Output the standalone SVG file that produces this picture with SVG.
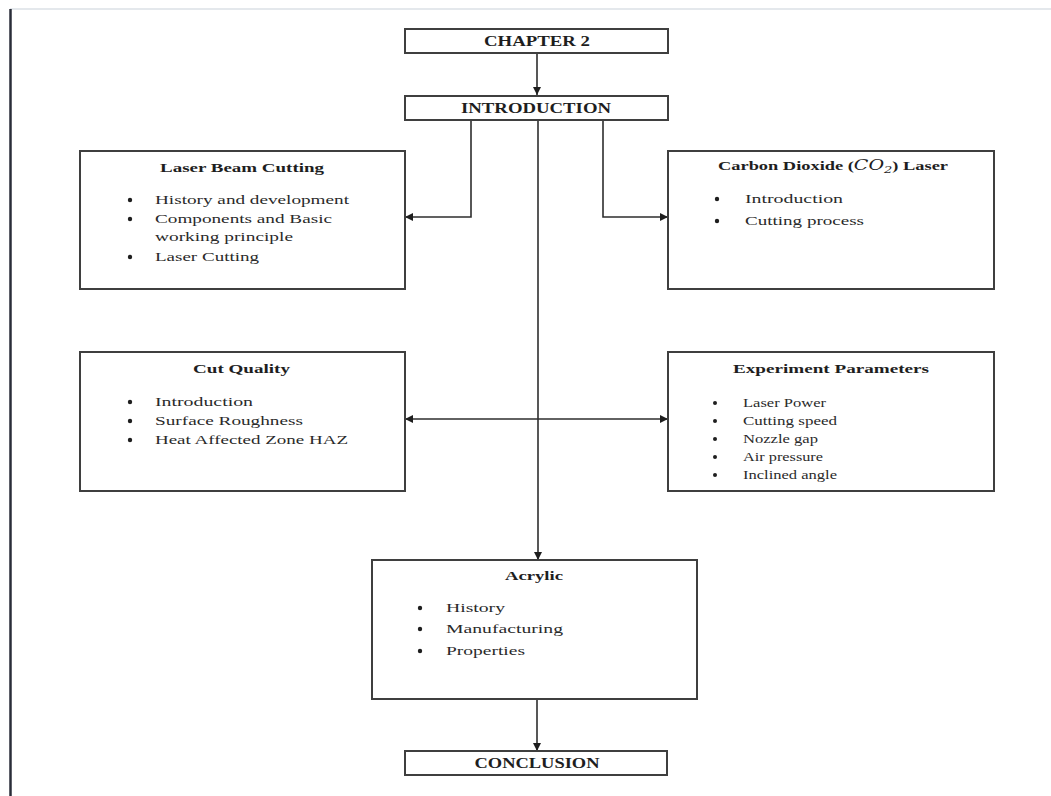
<svg xmlns="http://www.w3.org/2000/svg" width="1051" height="796" viewBox="0 0 1051 796">
  <style>
    .box { fill: #ffffff; stroke: #3f3f3f; stroke-width: 2; }
    .conn { fill: none; stroke: #2e2e2e; stroke-width: 1.6; }
    .hd { font-family: "Liberation Serif", "Times New Roman", serif; font-weight: bold; font-size: 14px; fill: #1e1e1e; }
    .ttl { font-family: "Liberation Serif", "Times New Roman", serif; font-weight: bold; font-size: 13.5px; fill: #1e1e1e; }
    .it { font-family: "Liberation Serif", "Times New Roman", serif; font-size: 13px; fill: #2a2a2a; }
    .sm { font-family: "Liberation Serif", "Times New Roman", serif; font-size: 11.5px; fill: #2a2a2a; }
    .math { font-family: "DejaVu Serif", "Liberation Serif", serif; font-style: italic; font-weight: normal; }
    .bul { fill: #1e1e1e; }
  </style>
  <defs>
    <marker id="arrow" viewBox="0 0 10 10" refX="10" refY="5" markerWidth="8" markerHeight="8" markerUnits="userSpaceOnUse" orient="auto-start-reverse">
      <path d="M0,0 L10,5 L0,10 z" fill="#1e1e1e"/>
    </marker>
  </defs>

  <rect x="0" y="0" width="1051" height="796" fill="#ffffff"/>
  <!-- page frame -->
  <line x1="10" y1="9" x2="1051" y2="9" stroke="#c9d1da" stroke-width="1.2"/>
  <line x1="10.5" y1="9" x2="10.5" y2="796" stroke="#2a2d38" stroke-width="2.5"/>

  <g id="connectors">
    <path class="conn" d="M537,53 V95" marker-end="url(#arrow)"/>
    <path class="conn" d="M471,120 V217 H405" marker-end="url(#arrow)"/>
    <path class="conn" d="M603,120 V217 H668" marker-end="url(#arrow)"/>
    <path class="conn" d="M538,120 V560" marker-end="url(#arrow)"/>
    <path class="conn" d="M405,419 H668" marker-start="url(#arrow)" marker-end="url(#arrow)"/>
    <path class="conn" d="M537,699 V751" marker-end="url(#arrow)"/>
  </g>

  <g id="chapter2">
    <rect class="box" x="405" y="29" width="263" height="24"/>
    <text class="hd" x="537" y="46" text-anchor="middle" textLength="106" lengthAdjust="spacingAndGlyphs">CHAPTER 2</text>
  </g>

  <g id="introduction">
    <rect class="box" x="405" y="96" width="263" height="24"/>
    <text class="hd" x="536" y="113" text-anchor="middle" textLength="150" lengthAdjust="spacingAndGlyphs">INTRODUCTION</text>
  </g>

  <g id="laser-beam-cutting">
    <rect class="box" x="80" y="151" width="325" height="138"/>
    <text class="ttl" x="160" y="172" textLength="164" lengthAdjust="spacingAndGlyphs">Laser Beam Cutting</text>
    <circle class="bul" cx="130" cy="200" r="2.2"/>
    <text class="it" x="155" y="204" textLength="194" lengthAdjust="spacingAndGlyphs">History and development</text>
    <circle class="bul" cx="130" cy="219" r="2.2"/>
    <text class="it" x="155" y="223" textLength="177" lengthAdjust="spacingAndGlyphs">Components and Basic</text>
    <text class="it" x="155" y="241" textLength="138" lengthAdjust="spacingAndGlyphs">working principle</text>
    <circle class="bul" cx="130" cy="257" r="2.2"/>
    <text class="it" x="155" y="261" textLength="104" lengthAdjust="spacingAndGlyphs">Laser Cutting</text>
  </g>

  <g id="co2-laser">
    <rect class="box" x="668" y="151" width="326" height="138"/>
    <text class="ttl" x="718" y="170" textLength="230" lengthAdjust="spacingAndGlyphs">Carbon Dioxide (<tspan class="math" font-size="14">CO</tspan><tspan class="math" font-style="normal" font-size="9.5" dy="3">2</tspan><tspan dy="-3">) Laser</tspan></text>
    <circle class="bul" cx="717" cy="199" r="2.2"/>
    <text class="it" x="745" y="203" textLength="98" lengthAdjust="spacingAndGlyphs">Introduction</text>
    <circle class="bul" cx="717" cy="221" r="2.2"/>
    <text class="it" x="745" y="225" textLength="119" lengthAdjust="spacingAndGlyphs">Cutting process</text>
  </g>

  <g id="cut-quality">
    <rect class="box" x="80" y="352" width="325" height="139"/>
    <text class="ttl" x="193" y="373" textLength="97" lengthAdjust="spacingAndGlyphs">Cut Quality</text>
    <circle class="bul" cx="130" cy="402" r="2.2"/>
    <text class="it" x="155" y="406" textLength="98" lengthAdjust="spacingAndGlyphs">Introduction</text>
    <circle class="bul" cx="130" cy="421" r="2.2"/>
    <text class="it" x="155" y="425" textLength="148" lengthAdjust="spacingAndGlyphs">Surface Roughness</text>
    <circle class="bul" cx="130" cy="440" r="2.2"/>
    <text class="it" x="155" y="444" textLength="193" lengthAdjust="spacingAndGlyphs">Heat Affected Zone HAZ</text>
  </g>

  <g id="experiment-parameters">
    <rect class="box" x="668" y="352" width="326" height="139"/>
    <text class="ttl" x="733" y="373" textLength="196" lengthAdjust="spacingAndGlyphs">Experiment Parameters</text>
    <circle class="bul" cx="715" cy="403" r="2"/>
    <text class="sm" x="743" y="407" textLength="83" lengthAdjust="spacingAndGlyphs">Laser Power</text>
    <circle class="bul" cx="715" cy="421" r="2"/>
    <text class="sm" x="743" y="425" textLength="94" lengthAdjust="spacingAndGlyphs">Cutting speed</text>
    <circle class="bul" cx="715" cy="439" r="2"/>
    <text class="sm" x="743" y="443" textLength="75" lengthAdjust="spacingAndGlyphs">Nozzle gap</text>
    <circle class="bul" cx="715" cy="457" r="2"/>
    <text class="sm" x="743" y="461" textLength="80" lengthAdjust="spacingAndGlyphs">Air pressure</text>
    <circle class="bul" cx="715" cy="475" r="2"/>
    <text class="sm" x="743" y="479" textLength="94" lengthAdjust="spacingAndGlyphs">Inclined angle</text>
  </g>

  <g id="acrylic">
    <rect class="box" x="372" y="560" width="325" height="139"/>
    <text class="ttl" x="534" y="580" text-anchor="middle" textLength="58" lengthAdjust="spacingAndGlyphs">Acrylic</text>
    <circle class="bul" cx="420" cy="608" r="2.2"/>
    <text class="it" x="446" y="612" textLength="59" lengthAdjust="spacingAndGlyphs">History</text>
    <circle class="bul" cx="420" cy="629" r="2.2"/>
    <text class="it" x="446" y="633" textLength="117" lengthAdjust="spacingAndGlyphs">Manufacturing</text>
    <circle class="bul" cx="420" cy="651" r="2.2"/>
    <text class="it" x="446" y="655" textLength="79" lengthAdjust="spacingAndGlyphs">Properties</text>
  </g>

  <g id="conclusion">
    <rect class="box" x="405" y="751" width="262" height="24"/>
    <text class="hd" x="537" y="768" text-anchor="middle" textLength="125" lengthAdjust="spacingAndGlyphs">CONCLUSION</text>
  </g>
</svg>
